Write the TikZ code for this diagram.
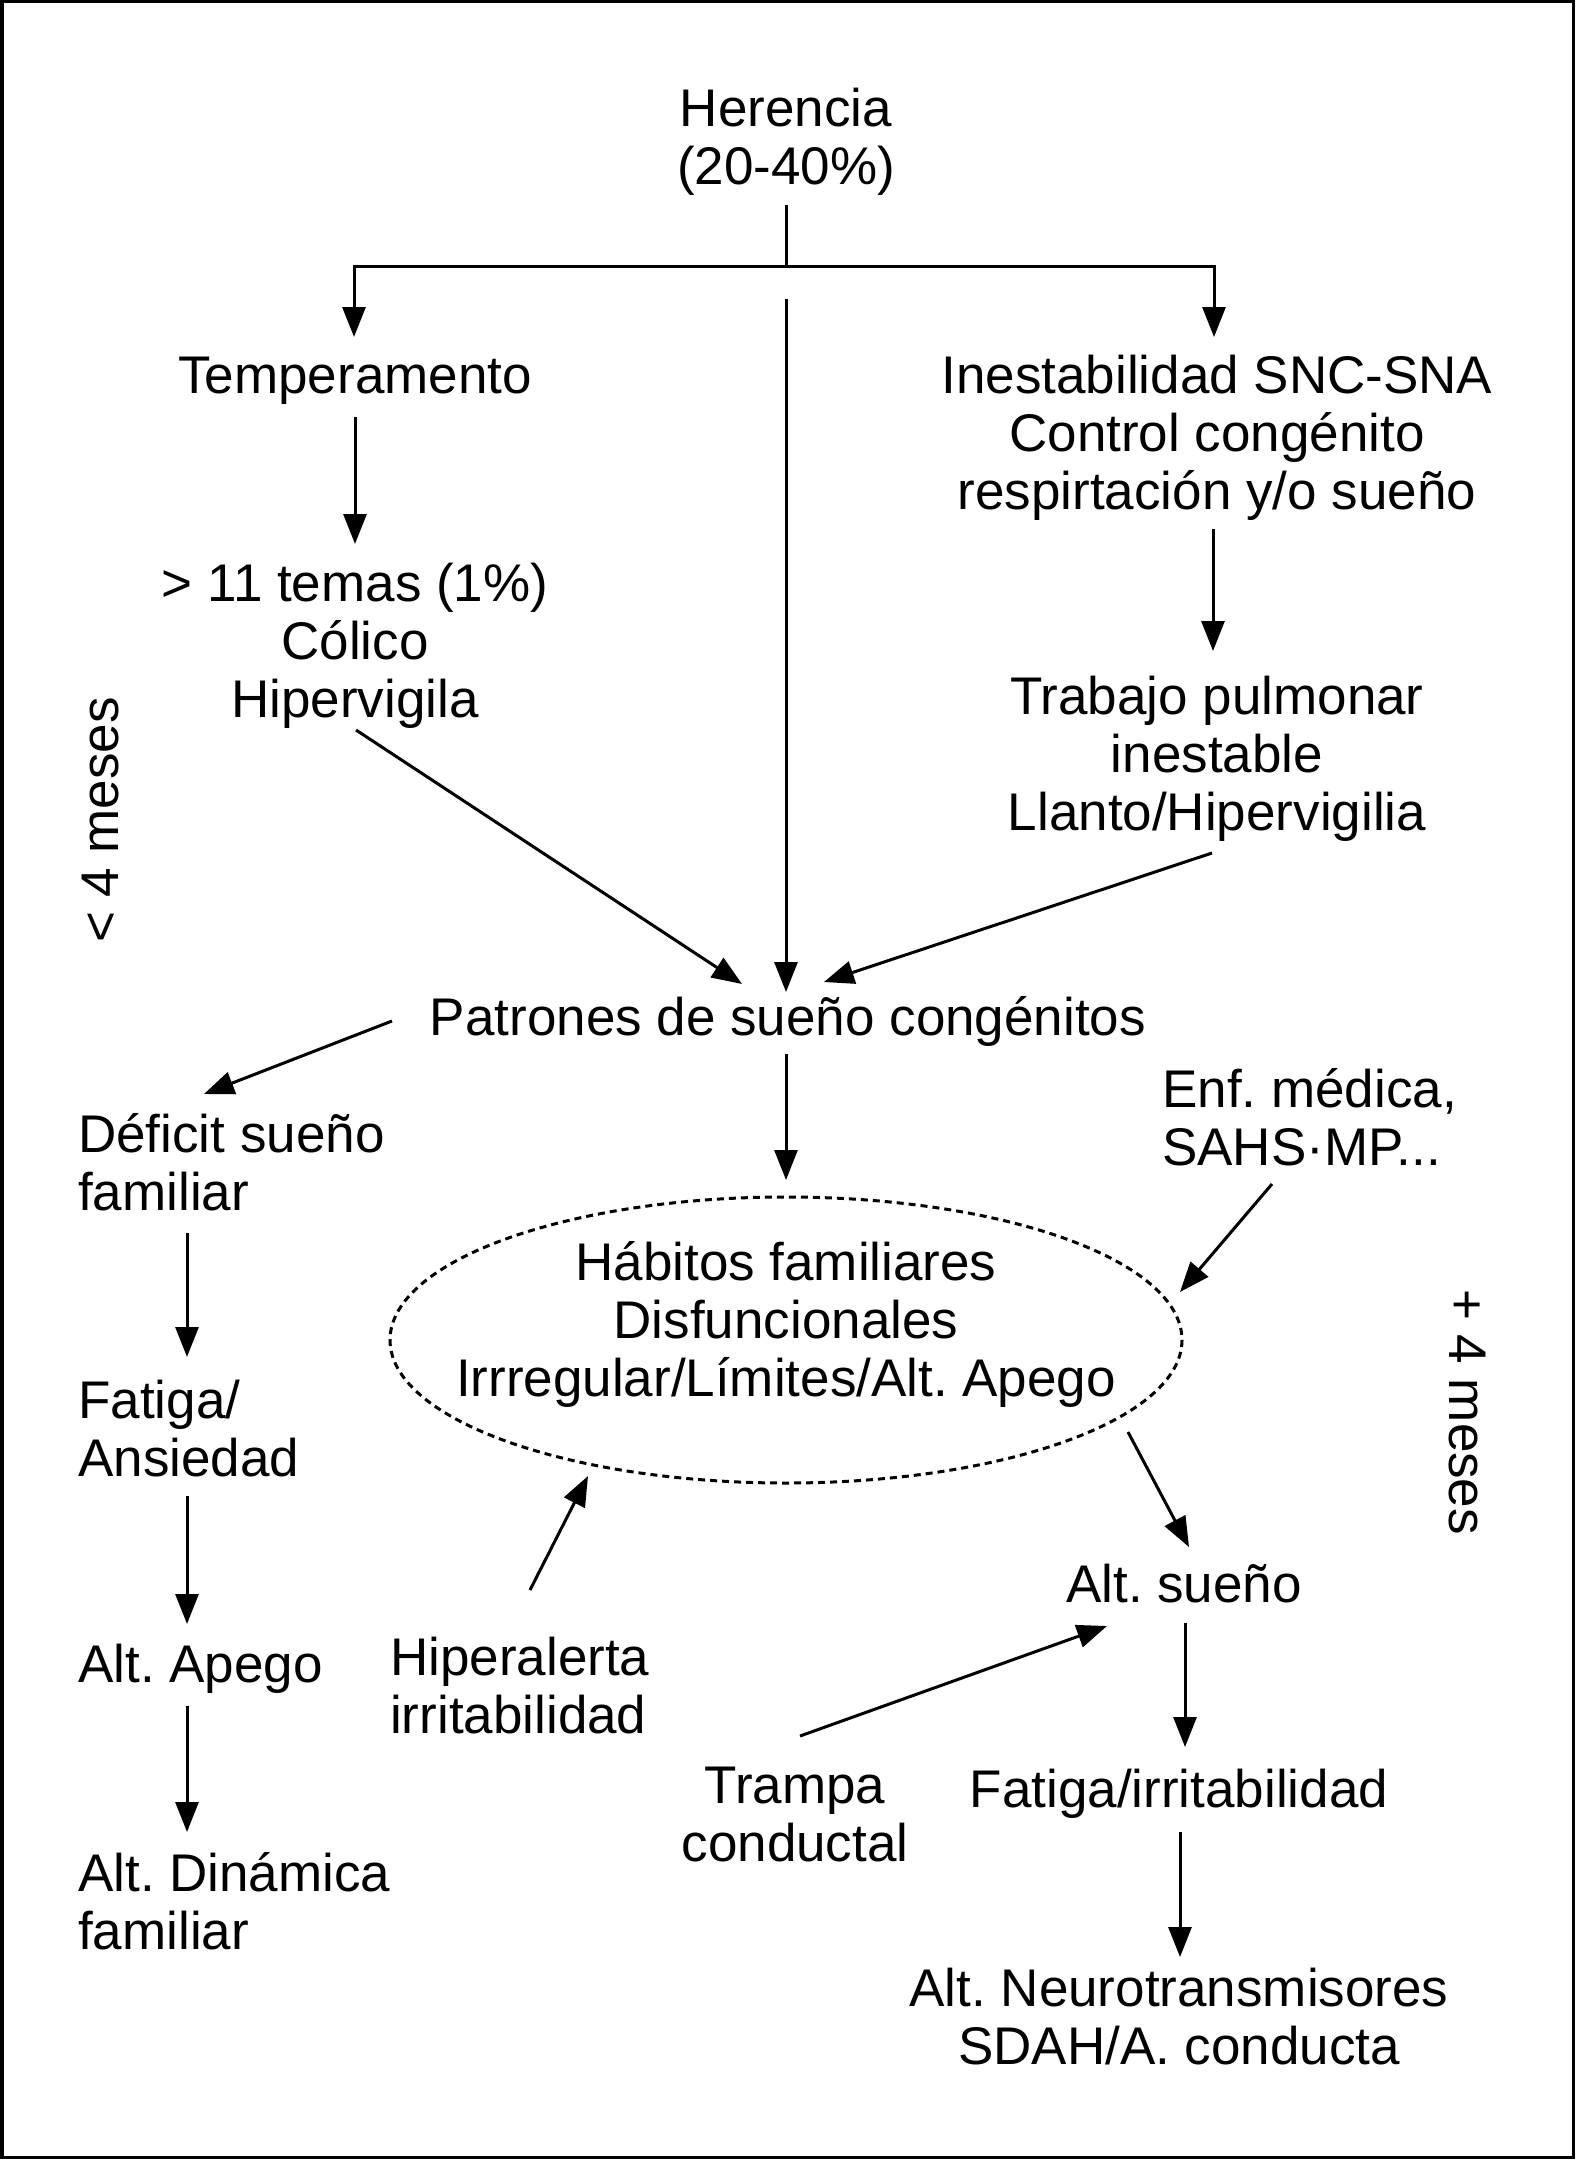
\documentclass[tikz,border=0pt]{standalone}
\usepackage{fontspec}
\setmainfont{Liberation Sans}
\usetikzlibrary{arrows.meta}
\frenchspacing
\begin{document}
\begin{tikzpicture}[x=1pt,y=-1pt,
  txt/.style={inner sep=0pt, font=\fontsize{53}{58}\selectfont\frenchspacing, align=center, anchor=base},
  ltxt/.style={inner sep=0pt, font=\fontsize{53}{58}\selectfont\frenchspacing, align=left, anchor=base west},
  ln/.style={line width=3pt},
  arr/.style={line width=3pt, -{Triangle[length=30pt,width=23pt]}},
  dotted ell/.style={line width=3pt, dash pattern=on 7pt off 5pt}]
\useasboundingbox (0,0) rectangle (1575,2159);
\draw[line width=3.5pt] (1.75,1.75) rectangle (1573.25,2157.25);

% nodes (placed at the baseline of their last line)
\node[txt] (her) at (786,185) {Herencia\\(20-40\%)};
\node[txt] (temp) at (355,393) {Temperamento};
\node[txt] (ines) at (1217,509) {Inestabilidad SNC-SNA\\Control congénito\\respirtación y/o sueño};
\node[txt] (temas) at (355,717) {> 11 temas (1\%)\\Cólico\\Hipervigila};
\node[txt] (trab) at (1217,830) {Trabajo pulmonar\\inestable\\Llanto/Hipervigilia};
\node[txt] (pat) at (788,1035) {Patrones de sueño congénitos};
\node[ltxt] (def) at (78,1210) {Déficit sueño\\familiar};
\node[ltxt] (fat) at (78,1476) {Fatiga/\\Ansiedad};
\node[ltxt] (apego) at (78,1682) {Alt. Apego};
\node[ltxt] (din) at (78,1949) {Alt. Dinámica\\familiar};
\node[txt] (hab) at (786,1396) {Hábitos familiares\\Disfuncionales\\Irrregular/Límites/Alt. Apego};
\node[ltxt] (enf) at (1162,1165) {Enf. médica,\\SAHS·MP...};
\node[ltxt] (hip) at (390,1733) {Hiperalerta\\irritabilidad};
\node[txt] (altsue) at (1184,1602) {Alt. sueño};
\node[txt] (trampa) at (795,1861) {Trampa\\conductal};
\node[txt] (fatirr) at (1179,1807) {Fatiga/irritabilidad};
\node[txt] (neuro) at (1179,2064) {Alt. Neurotransmisores\\SDAH/A. conducta};
\node[txt, anchor=center, rotate=90] (menos) at (101,820) {< 4 meses};
\node[txt, anchor=center, rotate=-90] (mas) at (1467,1412) {+ 4 meses};

% ellipse round the habits
\draw[dotted ell] ([shift={(0,-56)}]hab.base) ellipse [x radius=396, y radius=143];

% connectors
\draw[ln] ([shift={(0,20)}]her.base) -- ([shift={(0,82)}]her.base);
\draw[arr] ([shift={(0,82)}]her.base) -| ([shift={(-1,-56)}]temp.base);
\draw[arr] ([shift={(0,82)}]her.base) -| ([shift={(-3,-172)}]ines.base);
\draw[arr] ([shift={(0,114)}]her.base) -- ([shift={(-2,-43)}]pat.base);
\draw[arr] ([shift={(0,24)}]temp.base) -- ([shift={(0,-173)}]temas.base);
\draw[arr] ([shift={(-4,20)}]ines.base) -- ([shift={(-4,-179)}]trab.base);
\draw[arr] ([shift={(1,13)}]temas.base) -- ([shift={(-46,-51)}]pat.base);
\draw[arr] ([shift={(-5,23)}]trab.base) -- ([shift={(36,-53)}]pat.base);
\draw[arr] ([shift={(-396,-14)}]pat.base) -- ([shift={(126,-116)}]def.base west);
\draw[arr] ([shift={(-2,19)}]pat.base) -- ([shift={(0,-216)}]hab.base);
\draw[arr] ([shift={(109,23)}]def.base west) -- ([shift={(109,-119)}]fat.base west);
\draw[arr] ([shift={(109,20)}]fat.base west) -- ([shift={(109,-58)}]apego.base west);
\draw[arr] ([shift={(109,24)}]apego.base west) -- ([shift={(109,-117)}]din.base west);
\draw[arr] ([shift={(110,19)}]enf.base west) -- ([shift={(394,-104)}]hab.base);
\draw[arr] ([shift={(342,36)}]hab.base) -- ([shift={(5,-55)}]altsue.base);
\draw[arr] ([shift={(140,-143)}]hip.base west) -- ([shift={(-198,80)}]hab.base);
\draw[arr] ([shift={(5,-125)}]trampa.base) -- ([shift={(-77,24)}]altsue.base);
\draw[arr] ([shift={(1,21)}]altsue.base) -- ([shift={(6,-60)}]fatirr.base);
\draw[arr] ([shift={(1,25)}]fatirr.base) -- ([shift={(1,-107)}]neuro.base);
\end{tikzpicture}
\end{document}
